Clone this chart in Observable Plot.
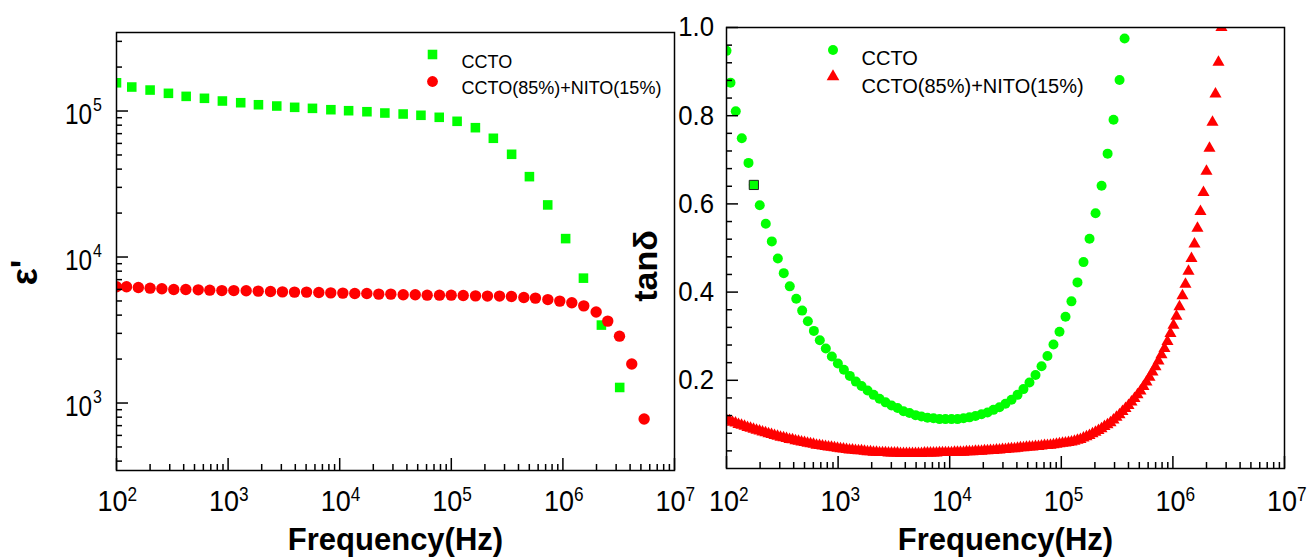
<!DOCTYPE html>
<html><head><meta charset="utf-8">
<script src="https://cdn.jsdelivr.net/npm/d3@7"></script>
<script src="https://cdn.jsdelivr.net/npm/@observablehq/plot@0.6"></script>
<style>
body{margin:0;background:#fff;}
#wrap{position:relative;width:1312px;height:559px;overflow:hidden;background:#fff;}
#wrap svg{position:absolute;top:0;max-width:none;}
</style></head><body><div id="wrap"></div>
<script>
// ---------- data: left panel, dielectric constant ε' ----------
const epsFreqCCTO = [100,137,200,292,421,614,889,1297,1871,2729,3949,5702,8337,12020,17540,25390,37030,53460,77980,112700,164400,238100,347100,501200,731100,1058000,1528000,2213000,3228000];
const epsCCTO = [156100,146000,139200,132200,126000,122200,117100,114000,110400,108200,106000,104300,102100,100500,98900,96900,95400,93500,90560,85030,76880,65050,50540,35520,22740,13370,7166,3418,1278];
const epsFreqMix = [100,123,157,200,255,326,418,540,685,879,1125,1452,1862,2399,3069,3936,5047,6501,8318,10670,13650,17500,22390,28710,37070,47530,60810,78340,99770,127900,164800,210900,270400,345900,446700,567500,732800,937600,1202000,1538000,1986000,2523000,3214000,4140000,5346000];
const epsMix = [6250,6250,6180,6120,6060,5990,5990,5960,5930,5890,5890,5870,5840,5800,5770,5750,5750,5710,5680,5660,5620,5620,5570,5570,5510,5510,5480,5480,5480,5450,5420,5400,5400,5360,5280,5230,5110,4990,4860,4630,4200,3640,2870,1850,777];

// ---------- data: right panel, loss tangent tanδ ----------
const tanFreqCCTO = [100,108.6,121.1,137.1,157.4,175.8,198.6,224.9,254.7,288.4,325.8,369,421.7,476.4,535.8,606.7,685.5,776.2,879,995.4,1127,1274,1442,1622,1837,2080,2350,2661,3013,3412,3855,4365,4943,5585,6324,7161,8110,9162,10380,11750,13300,15030,17020,19280,21830,24660,27930,31620,35810,40550,45810,51880,58750,66530,75160,85110,96380,109100,123300,139600,158100,179100,202800,229600,260000,293800,332700,369000];
const tanCCTO = [0.947,0.875,0.810,0.749,0.693,0.643,0.597,0.555,0.515,0.476,0.443,0.413,0.385,0.358,0.334,0.312,0.291,0.272,0.254,0.238,0.224,0.210,0.197,0.187,0.177,0.167,0.158,0.150,0.143,0.137,0.130,0.126,0.121,0.118,0.115,0.114,0.112,0.112,0.112,0.112,0.114,0.116,0.119,0.123,0.127,0.133,0.139,0.147,0.156,0.167,0.180,0.195,0.212,0.232,0.255,0.281,0.310,0.344,0.379,0.422,0.468,0.521,0.579,0.641,0.714,0.791,0.881,0.975];
const tanFreqMix = [100,106.4,113.2,120.4,128.1,136.3,145,154.2,164.1,174.6,185.7,197.6,210.2,223.6,237.9,253.1,269.2,286.4,304.7,324.2,344.9,366.9,390.3,415.2,441.7,469.9,499.9,531.8,565.7,601.8,640.2,681.1,724.5,770.8,820,872.3,928,987.2,1050,1117,1189,1265,1345,1431,1523,1620,1723,1833,1950,2075,2208,2349,2499,2658,2828,3008,3201,3405,3622,3853,4099,4361,4639,4935,5250,5585,5942,6321,6724,7154,7610,8096,8613,9163,9752,10370,11040,11740,12490,13290,14140,15040,16000,17020,18110,19270,20500,21810,23200,24680,26260,27930,29720,31610,33630,35780,38070,40500,43080,45830,48750,51870,55180,58700,62450,66440,70680,75190,79990,85090,90530,96310,102500,109000,116000,123400,131200,139600,148500,158000,168100,178800,190300,202400,215300,229100,243700,259300,275800,293400,312200,332100,353300,375900,399900,425400,452600,481500,512200,544900,579700,616700,656100,698000,742500,789900,840400,894000,951100,1012000,1076000,1145000,1218000,1296000,1379000,1467000,1561000,1660000,1766000,1879000,1999000,2127000,2263000,2407000,2561000,2724000];
const tanMix = [0.110,0.108,0.105,0.103,0.100,0.098,0.096,0.093,0.091,0.089,
0.087,0.085,0.083,0.081,0.079,0.077,0.075,0.073,0.071,0.070,
0.068,0.066,0.065,0.063,0.062,0.060,0.059,0.057,0.056,0.055,
0.053,0.052,0.051,0.050,0.049,0.048,0.047,0.046,0.045,0.044,
0.043,0.042,0.042,0.041,0.040,0.040,0.039,0.038,0.038,0.037,
0.037,0.036,0.036,0.036,0.035,0.035,0.035,0.035,0.034,0.034,
0.034,0.034,0.034,0.034,0.034,0.034,0.035,0.035,0.035,0.035,
0.035,0.036,0.036,0.036,0.036,0.036,0.037,0.037,0.037,0.037,
0.038,0.038,0.038,0.039,0.039,0.039,0.040,0.040,0.041,0.041,
0.042,0.042,0.043,0.043,0.044,0.045,0.045,0.046,0.047,0.047,
0.048,0.049,0.049,0.050,0.050,0.051,0.052,0.052,0.053,0.054,
0.055,0.056,0.057,0.058,0.059,0.060,0.062,0.064,0.066,0.069,
0.072,0.075,0.079,0.082,0.086,0.090,0.095,0.099,0.104,0.110,
0.116,0.122,0.129,0.136,0.143,0.151,0.159,0.167,0.176,0.186,
0.196,0.207,0.219,0.231,0.244,0.258,0.272,0.288,0.306,0.325,
0.345,0.367,0.392,0.418,0.447,0.476,0.509,0.545,0.583,0.626,
0.674,0.726,0.785,0.849,0.921,1.000];

// ---------- ticks ----------
const freqMajor = [1e2,1e3,1e4,1e5,1e6,1e7];
const freqMinor = [200,300,400,500,600,700,800,900,2000,3000,4000,5000,6000,7000,8000,9000,20000,30000,40000,50000,60000,70000,80000,90000,200000,300000,400000,500000,600000,700000,800000,900000,2e6,3e6,4e6,5e6,6e6,7e6,8e6,9e6];
const epsMajor = [1e3,1e4,1e5];
const epsMinor = [400,500,600,700,800,900,2000,3000,4000,5000,6000,7000,8000,9000,20000,30000,40000,50000,60000,70000,80000,90000,200000,300000];
const tanMajor = [0.2,0.4,0.6,0.8,1.0];
const tanMinor = [0.04,0.08,0.12,0.16,0.24,0.28,0.32,0.36,0.44,0.48,0.52,0.56,0.64,0.68,0.72,0.76,0.84,0.88,0.92,0.96];
const seriesNames = ["CCTO","CCTO(85%)+NITO(15%)"];
const GREEN = "#00ff00", RED = "#ff0000";
const FONT = "'Liberation Sans', Arial, Helvetica, sans-serif";
const exp10 = d => String(Math.round(Math.log10(d)));
const tag = name => () => name;

const wrap = document.getElementById("wrap");

// ---------- left panel ----------
const L = {w: 700, ml: 116, mr: 26, mt: 32, mb: 89};
const Lfw = L.w - L.ml - L.mr, Lfh = 559 - L.mt - L.mb;
const left = Plot.plot({
  width: L.w, height: 559,
  marginLeft: L.ml, marginRight: L.mr, marginTop: L.mt, marginBottom: L.mb,
  x: {type: "log", domain: [1e2, 1e7], axis: null},
  y: {type: "log", domain: [345, 3.45e5], axis: null},
  style: {background: "transparent", fontFamily: FONT, color: "black"},
  marks: [
    Plot.dot(epsCCTO, {x: epsFreqCCTO, y: epsCCTO, symbol: "square", r: 5.4, fill: GREEN, clip: true}),
    Plot.dot(epsMix, {x: epsFreqMix, y: epsMix, symbol: "circle", r: 5.7, fill: RED, clip: true}),
    Plot.frame({stroke: "black", strokeWidth: 1.5}),
    Plot.tickY(epsMajor, {y: d => d, insetRight: Lfw - 12, stroke: "black", strokeWidth: 1.5}),
    Plot.tickY(epsMinor, {y: d => d, insetRight: Lfw - 6, stroke: "black", strokeWidth: 1.5}),
    Plot.tickX(freqMajor, {x: d => d, insetTop: Lfh - 12, stroke: "black", strokeWidth: 1.5}),
    Plot.tickX(freqMinor, {x: d => d, insetTop: Lfh - 6, stroke: "black", strokeWidth: 1.5}),
    Plot.text(epsMajor, {y: d => d, frameAnchor: "left", text: () => "10", textAnchor: "end", lineAnchor: "bottom", dx: -24.5, dy: 13, fontSize: 29, ariaLabel: tag("narrow-y")}),
    Plot.text(epsMajor, {y: d => d, frameAnchor: "left", text: exp10, textAnchor: "start", lineAnchor: "bottom", dx: -23.5, dy: 0, fontSize: 19, ariaLabel: tag("narrow-y")}),
    Plot.text(freqMajor, {x: d => d, frameAnchor: "bottom", text: () => "10", textAnchor: "end", lineAnchor: "bottom", dx: 11, dy: 40, fontSize: 30, ariaLabel: tag("narrow-x")}),
    Plot.text(freqMajor, {x: d => d, frameAnchor: "bottom", text: exp10, textAnchor: "start", lineAnchor: "bottom", dx: 11, dy: 30, fontSize: 21, ariaLabel: tag("narrow-sup")}),
    Plot.text(["Frequency(Hz)"], {frameAnchor: "bottom", text: d => d, textAnchor: "middle", lineAnchor: "bottom", dy: 79, fontSize: 31, fontWeight: "bold"}),
    Plot.text(["ε'"], {frameAnchor: "left", text: d => d, textAnchor: "middle", rotate: -90, dx: -91, dy: 21, fontSize: 36, fontWeight: "bold"}),
    // legend
    Plot.dot([seriesNames[0]], {frameAnchor: "top-left", dx: 316, dy: 22, symbol: "square", r: 5.4, fill: GREEN}),
    Plot.dot([seriesNames[1]], {frameAnchor: "top-left", dx: 316, dy: 49, symbol: "circle", r: 5.4, fill: RED}),
    Plot.text([seriesNames[0]], {frameAnchor: "top-left", text: d => d, textAnchor: "start", dx: 345, dy: 23, fontSize: 18}),
    Plot.text([seriesNames[1]], {frameAnchor: "top-left", text: d => d, textAnchor: "start", dx: 345, dy: 49, fontSize: 18})
  ]
});
left.style.left = "0px";
wrap.appendChild(left);

// ---------- right panel ----------
const R = {x0: 600, w: 712, ml: 126, mr: 28, mt: 27, mb: 91};
const Rfw = R.w - R.ml - R.mr, Rfh = 559 - R.mt - R.mb;
const right = Plot.plot({
  width: R.w, height: 559,
  marginLeft: R.ml, marginRight: R.mr, marginTop: R.mt, marginBottom: R.mb,
  x: {type: "log", domain: [1e2, 1e7], axis: null},
  y: {type: "linear", domain: [0, 1], axis: null},
  style: {background: "transparent", fontFamily: FONT, color: "black"},
  marks: [
    Plot.dot(tanCCTO, {x: tanFreqCCTO, y: tanCCTO, symbol: "circle", r: 5, fill: GREEN, clip: true}),
    Plot.dot(tanCCTO.filter((d, i) => i === 5), {x: tanFreqCCTO.filter((d, i) => i === 5), y: d => d, symbol: "square", r: 5.2, fill: GREEN, stroke: "#222", strokeWidth: 1, clip: true}),
    Plot.dot(tanMix, {x: tanFreqMix, y: tanMix, symbol: "triangle", r: 4.5, fill: RED, clip: true}),
    Plot.frame({stroke: "black", strokeWidth: 1.5}),
    Plot.tickY(tanMajor, {y: d => d, insetRight: Rfw - 12, stroke: "black", strokeWidth: 1.5}),
    Plot.tickY(tanMinor, {y: d => d, insetRight: Rfw - 6, stroke: "black", strokeWidth: 1.5}),
    Plot.tickX(freqMajor, {x: d => d, insetTop: Rfh - 12, stroke: "black", strokeWidth: 1.5}),
    Plot.tickX(freqMinor, {x: d => d, insetTop: Rfh - 6, stroke: "black", strokeWidth: 1.5}),
    Plot.text(tanMajor, {y: d => d, frameAnchor: "left", text: d => d.toFixed(1), textAnchor: "end", dx: -12.5, fontSize: 28, ariaLabel: tag("narrow-t")}),
    Plot.text(freqMajor, {x: d => d, frameAnchor: "bottom", text: () => "10", textAnchor: "end", lineAnchor: "bottom", dx: 12.5, dy: 42, fontSize: 30, ariaLabel: tag("narrow-x")}),
    Plot.text(freqMajor, {x: d => d, frameAnchor: "bottom", text: exp10, textAnchor: "start", lineAnchor: "bottom", dx: 12.5, dy: 32, fontSize: 21, ariaLabel: tag("narrow-sup")}),
    Plot.text(["Frequency(Hz)"], {frameAnchor: "bottom", text: d => d, textAnchor: "middle", lineAnchor: "bottom", dy: 81, fontSize: 31, fontWeight: "bold"}),
    Plot.text(["tanδ"], {frameAnchor: "left", text: d => d, textAnchor: "middle", rotate: -90, dx: -80, dy: 18, fontSize: 34, fontWeight: "bold"}),
    // legend
    Plot.dot([seriesNames[0]], {frameAnchor: "top-left", dx: 106.5, dy: 22.5, symbol: "circle", r: 5, fill: GREEN}),
    Plot.dot([seriesNames[1]], {frameAnchor: "top-left", dx: 106.5, dy: 49, symbol: "triangle", r: 4.7, fill: RED}),
    Plot.text([seriesNames[0]], {frameAnchor: "top-left", text: d => d, textAnchor: "start", dx: 135, dy: 23, fontSize: 20}),
    Plot.text([seriesNames[1]], {frameAnchor: "top-left", text: d => d, textAnchor: "start", dx: 135, dy: 51, fontSize: 20})
  ]
});
right.style.left = R.x0 + "px";
wrap.appendChild(right);

// condensed look of the tick labels (horizontal squeeze around each label's anchor)
const squeeze = {"narrow-y": 0.84, "narrow-x": 0.9, "narrow-sup": 0.82, "narrow-t": 0.92};
for (const [label, s] of Object.entries(squeeze)) {
  document.querySelectorAll(`text[aria-label="${label}"]`).forEach(t => {
    const tr = t.getAttribute("transform");
    if (tr) t.setAttribute("transform", tr + ` scale(${s},1)`);
  });
}
</script>
</body></html>
